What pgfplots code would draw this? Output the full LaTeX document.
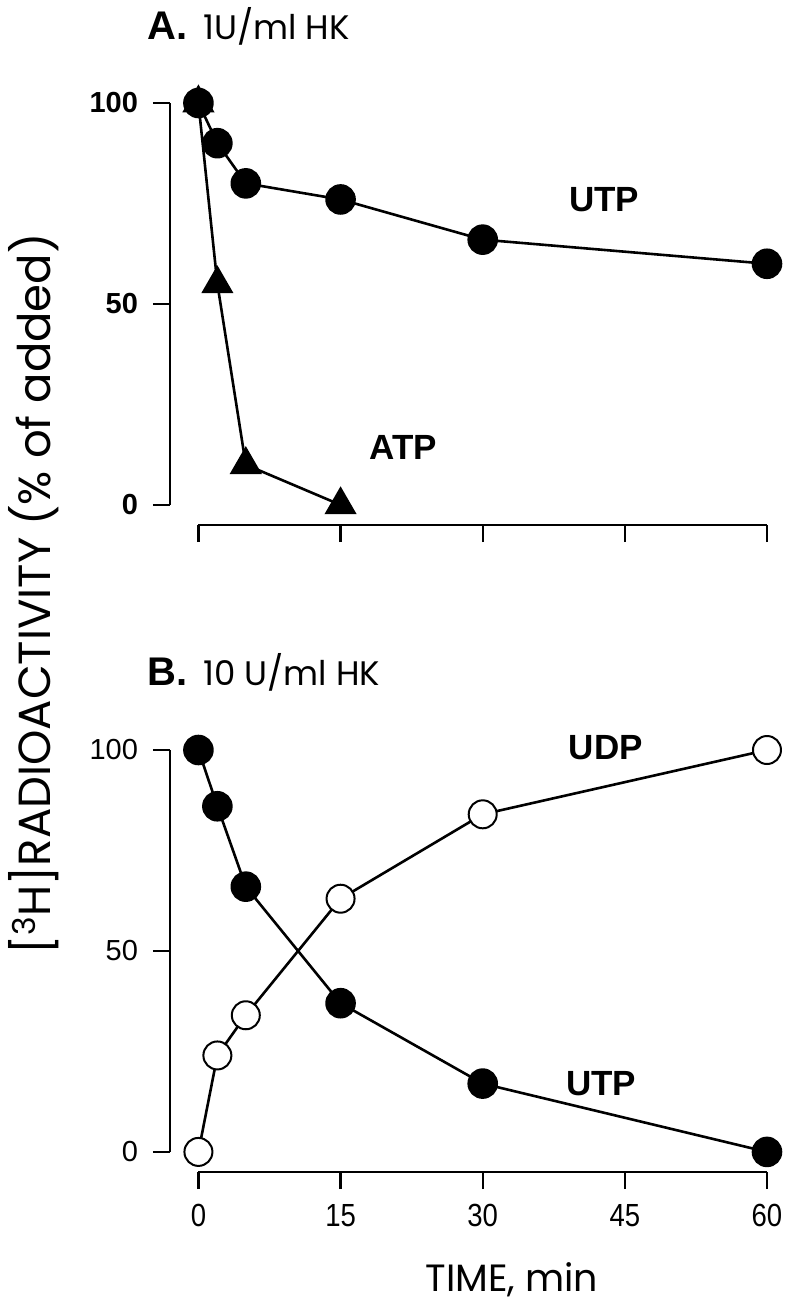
\documentclass[border=0pt]{standalone}
\usepackage{fontspec}
\setmainfont{Liberation Sans}
\newfontfamily\pop{Poppins}
\newfontfamily\narrow[FakeStretch=0.86]{Liberation Sans}
\usepackage{pgfplots}
\pgfplotsset{compat=1.18}
\begin{document}
\begin{tikzpicture}
\useasboundingbox (-85pt,262.5pt) rectangle (310pt,-393.5pt);
\pgfplotsset{
 panel/.style={
  scale only axis, width=298.5pt, height=211pt,
  xmin=-3, xmax=60, ymin=-5, ymax=100,
  axis lines*=left, axis line style={draw=none},
  tick align=outside, major tick length=8.5pt,
  tick style={black, line width=1.2pt},
  xtick={0,15,30,45,60}, ytick={0,50,100},
  clip=false,
  /pgf/number format/assume math mode=true,
  every axis plot/.append style={black, line width=1.3pt},
 }
}
\begin{axis}[panel, at={(0,0)}, anchor=south west, xticklabels={},
  yticklabel style={font=\fontsize{14.5}{16}\selectfont\bfseries, xshift=-4pt}]
 \draw[line width=1.3pt] (axis cs:0,-5) -- (axis cs:60,-5);
 \draw[line width=1.3pt] (axis cs:-3,0) -- (axis cs:-3,100);
 \addplot[mark=triangle*, mark size=8pt] coordinates {(0,100)(2,55)(5,10)(15,0)};
 \addplot[mark=*, mark size=7pt] coordinates {(0,100)(2,90)(5,80)(15,76)(30,66)(60,60)};
 \node[font=\fontsize{17.5}{20}\selectfont\bfseries] at (axis cs:42.8,76) {UTP};
 \node[font=\fontsize{17.5}{20}\selectfont\bfseries] at (axis cs:21.6,14.2) {ATP};
\end{axis}
\begin{axis}[panel, at={(0,-323.5pt)}, anchor=south west,
  xticklabel style={font=\narrow\fontsize{16}{18}\selectfont, yshift=-4pt},
  yticklabel style={font=\fontsize{14.5}{16}\selectfont, xshift=-4pt}]
 \draw[line width=1.3pt] (axis cs:0,-5) -- (axis cs:60,-5);
 \draw[line width=1.3pt] (axis cs:-3,0) -- (axis cs:-3,100);
 \addplot[mark=*, mark size=7pt] coordinates {(0,100)(2,86)(5,66)(15,37)(30,17)(60,0)};
 \addplot[mark=*, mark size=7pt, mark options={fill=white, line width=1pt}] coordinates {(0,0)(2,24)(5,34)(15,63)(30,84)(60,100)};
 \node[font=\fontsize{17.5}{20}\selectfont\bfseries] at (axis cs:43,100.7) {UDP};
 \node[font=\fontsize{17.5}{20}\selectfont\bfseries] at (axis cs:42.5,17) {UTP};
\end{axis}
\node[anchor=base west, inner sep=0] at (-11.5pt,242.5pt) {{\fontsize{20}{22}\selectfont\bfseries A.}\hspace{8pt}{\pop\fontsize{17}{20}\selectfont 1U/ml HK}};
\node[anchor=base west, inner sep=0] at (-11.5pt,-80pt) {{\fontsize{20}{22}\selectfont\bfseries B.}\hspace{8pt}{\pop\fontsize{17}{20}\selectfont 10 U/ml HK}};
\node[rotate=90, font=\pop\fontsize{22.5}{26}\selectfont] at (-68pt,-34.5pt) {[\textsuperscript{3}H]RADIOACTIVITY (\% of added)};
\node[font=\pop\fontsize{19}{22}\selectfont] at (171pt,-377.5pt) {TIME, min};
\end{tikzpicture}
\end{document}
